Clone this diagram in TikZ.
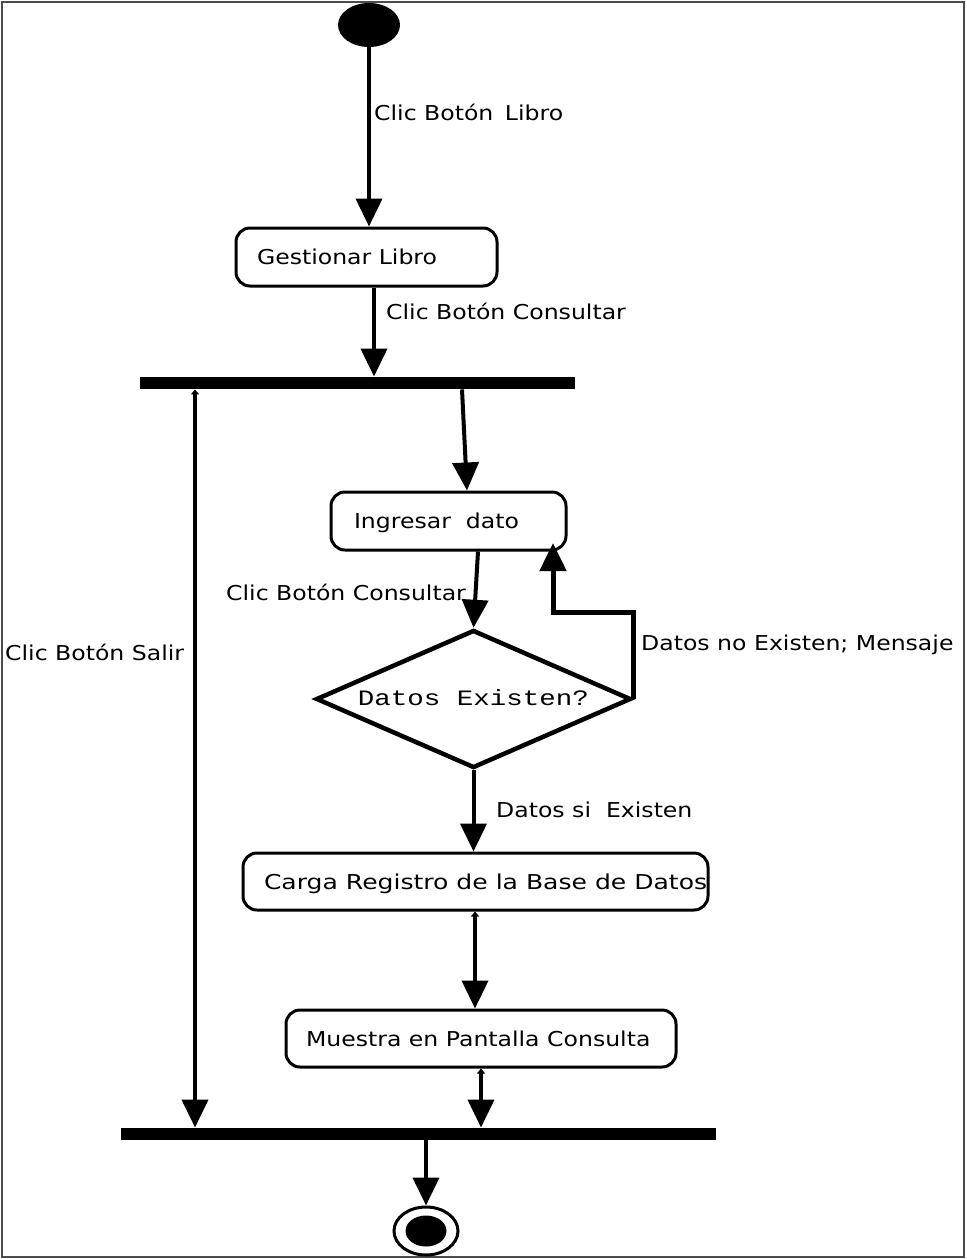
\documentclass[tikz,border=0pt]{standalone}
\usepackage{fontspec}
\setmainfont{DejaVu Sans}[FakeStretch=1.15]
\newfontfamily\diafont{Liberation Mono}[FakeStretch=1.25]
\usetikzlibrary{arrows.meta,shapes.geometric,calc}
\begin{document}
\begin{tikzpicture}[x=1pt,y=-1pt,
  txt/.style={font=\fontsize{20.5}{24}\selectfont, inner sep=0pt, anchor=base west},
  actbox/.style={draw, line width=3pt, rounded corners=14pt, inner ysep=0pt,
     text height=15pt, text depth=0pt, font=\fontsize{20.5}{24}\selectfont,
     inner xsep=21pt, minimum height=58pt},
  bar/.style={fill=black, inner sep=0pt, minimum height=12.5pt},
  arr/.style={line width=4pt, -{Triangle[width=26pt,length=28pt]}},
  arrb/.style={line width=4pt, {Triangle[width=8pt,length=5pt]}-{Triangle[width=26pt,length=28pt]}},
  startnode/.style={ellipse, fill=black, inner sep=0pt},
  decision/.style={diamond, draw, line width=4.5pt, shape aspect=2.28, inner sep=0pt,
     text height=12pt, text depth=0pt, font=\diafont\fontsize{22}{24}\selectfont}
]
\useasboundingbox (0,0) rectangle (967,1259);
\draw[line width=1.2pt, black!70] (2,2) rectangle (964,1257);

% nodes
\node[startnode, minimum width=62pt, minimum height=44pt] (start) at (369,25) {};
\node[actbox] (gest) at (366.5,257) {\makebox[219pt][l]{Gestionar Libro}};
\node[bar, minimum width=435pt] (bar1) at (357.5,383) {};
\node[actbox, inner xsep=23pt] (ing) at (448.5,521) {\makebox[189pt][l]{Ingresar\ \ dato}};
\node[decision, minimum width=315pt, minimum height=138pt] (dia) at (473.5,699) {Datos Existen?};
\node[actbox, minimum height=57pt] (carga) at (475.5,881.5) {\makebox[423pt][l]{\scalebox{1.063}[1]{Carga Registro de la Base de Datos}}};
\node[actbox, minimum height=57pt, inner xsep=20pt] (mue) at (481,1038.5) {\makebox[350pt][l]{Muestra en Pantalla Consulta}};
\node[bar, minimum width=595pt] (bar2) at (418.5,1134) {};
\node[ellipse, draw, line width=3pt, minimum width=64pt, minimum height=48pt, inner sep=0pt] (end) at (426,1231) {};
\node[startnode, minimum width=41pt, minimum height=31pt] (endin) at (end.center) {};

% labels
\node[txt] (l1) at (374,120.5) {Clic Botón\hspace{4pt} Libro};
\node[txt] (l2) at (386,319.5) {Clic Botón Consultar};
\node[txt] (l3) at (226,600.5) {Clic Botón Consultar};
\node[txt] (l4) at (5,660.5) {Clic Botón Salir};
\node[txt] (l5) at (641,650.5) {Datos no Existen; Mensaje};
\node[txt] (l6) at (496,817.5) {Datos si\ \ Existen};

% helper coordinates
\coordinate (loopA) at (553,612);
\coordinate (loopB) at (553,543);

% connectors
\draw[arr] (start.south) -- (gest.north -| start.south);
\draw[arr] (gest.south -| 374,0) -- (bar1.north -| 374,0);
\draw[arr] (bar1.south -| 462,0) -- (ing.north -| 467,0);
\draw[arr] (ing.south -| 478,0) -- (dia.north);
\draw[arr, line width=5pt] (dia.east) |- (loopA) -- (loopB);
\draw[arr] (dia.south) -- (carga.north -| dia.south);
\draw[arrb] (carga.south -| 475,0) -- (mue.north -| 475,0);
\draw[arrb] (mue.south -| 481,0) -- (bar2.north -| 481,0);
\draw[arrb] (bar1.south -| 195,0) -- (bar2.north -| 195,0);
\draw[arr] (bar2.south -| end.north) -- (end.north);
\end{tikzpicture}
\end{document}
